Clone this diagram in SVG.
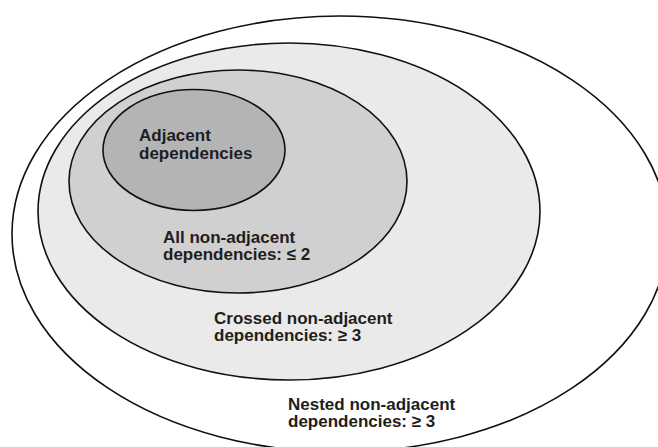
<svg xmlns="http://www.w3.org/2000/svg" width="658" height="447" viewBox="0 0 658 447">
<style>
.e{stroke:#111;stroke-width:1.6}
.t{font-family:"Liberation Sans",Arial,sans-serif;font-size:17px;font-weight:bold;fill:#1e1e1e}
</style>
<rect width="658" height="447" fill="#fff"/>
<g id="nested">
<ellipse class="e" cx="340" cy="234" rx="328" ry="218" fill="#fff"/>
<text class="t" x="288" y="409.5">Nested non-adjacent<tspan x="288" dy="17.5">dependencies: ≥ 3</tspan></text>
</g>
<g id="crossed">
<ellipse class="e" cx="289" cy="211.5" rx="251" ry="168.5" fill="#eaeaea"/>
<text class="t" x="214" y="323.5">Crossed non-adjacent<tspan x="214" dy="17.5">dependencies: ≥ 3</tspan></text>
</g>
<g id="all">
<ellipse class="e" cx="238" cy="181.5" rx="169" ry="111.5" fill="#d0d0d0"/>
<text class="t" x="163" y="242.5">All non-adjacent<tspan x="163" dy="17.5">dependencies: ≤ 2</tspan></text>
</g>
<g id="adjacent">
<ellipse class="e" cx="194" cy="150" rx="91" ry="60.5" fill="#b4b4b4"/>
<text class="t" x="139" y="141">Adjacent<tspan x="139" dy="17.5">dependencies</tspan></text>
</g>
<g id="connectors"/>
</svg>
